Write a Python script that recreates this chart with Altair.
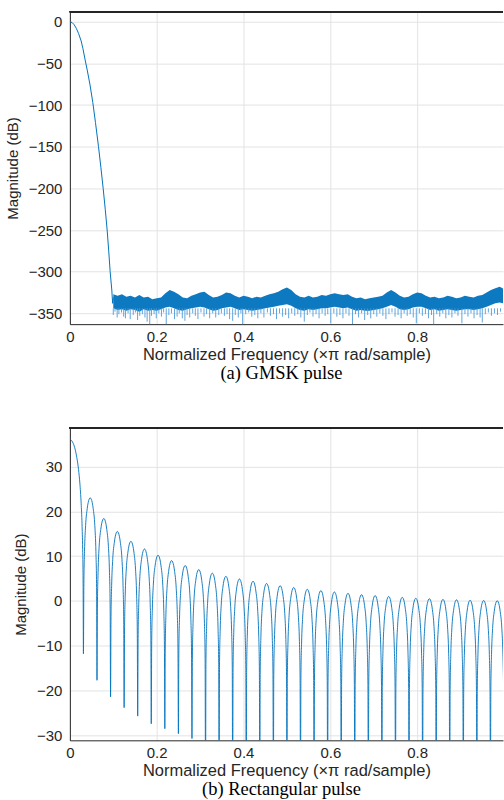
import altair as alt
import pandas as pd

# ---------------- (a) GMSK pulse ----------------
gmsk_lobe_f = [0, 0.005, 0.01, 0.015, 0.02, 0.026, 0.03, 0.0353, 0.04, 0.0465, 0.0529,
               0.059, 0.066, 0.0715, 0.0767, 0.0815, 0.0859, 0.0895, 0.0928, 0.0966, 0.0985, 0.1]
gmsk_lobe_db = [0, -0.9, -3.6, -8, -14, -23, -32, -46, -58, -76, -97,
                -121, -150, -175, -200, -225, -250, -275, -300, -322, -338, -331]

floor_start = 0.10
floor_step = 0.01
floor_upper = [-327, -329, -327, -330, -329, -331, -328, -331, -330, -333,
               -332, -331, -326, -322, -324, -327, -331, -332, -329, -327,
               -325, -324, -328, -331, -330, -328, -325, -326, -329, -331,
               -329, -330, -332, -330, -331, -329, -327, -326, -324, -321,
               -319, -322, -327, -330, -331, -329, -331, -330, -328, -329,
               -327, -326, -327, -328, -327, -330, -332, -331, -333, -332,
               -331, -330, -329, -325, -322, -325, -329, -331, -330, -327,
               -325, -326, -329, -331, -330, -332, -331, -329, -330, -332,
               -331, -329, -330, -331, -329, -328, -325, -322, -320, -318,
               -321]
floor_lower = [-344, -346, -345, -347, -345, -346, -348, -345, -347, -346,
               -347, -345, -343, -342, -344, -346, -347, -345, -344, -343,
               -342, -343, -345, -347, -346, -344, -343, -342, -344, -346,
               -345, -346, -347, -346, -345, -344, -343, -342, -341, -340,
               -339, -341, -344, -346, -347, -345, -346, -345, -344, -344,
               -343, -342, -343, -344, -343, -345, -347, -346, -347, -347,
               -346, -345, -344, -342, -340, -342, -345, -346, -345, -343,
               -342, -342, -344, -346, -345, -347, -346, -345, -346, -347,
               -346, -345, -345, -346, -345, -344, -342, -340, -338, -337,
               -338]

spike_f = [0.100, 0.104, 0.109, 0.113, 0.119, 0.124, 0.128, 0.134, 0.139, 0.146, 0.151, 0.156,
           0.161, 0.167, 0.173, 0.178, 0.184, 0.188, 0.194, 0.199, 0.205, 0.211, 0.216, 0.222,
           0.228, 0.234, 0.241, 0.247, 0.252, 0.259, 0.265, 0.270, 0.276, 0.283, 0.289, 0.295,
           0.302, 0.309, 0.315, 0.322, 0.329, 0.336, 0.343, 0.349, 0.356, 0.362, 0.368, 0.375,
           0.381, 0.388, 0.394, 0.398, 0.405, 0.412, 0.419, 0.426, 0.433, 0.440, 0.447, 0.455,
           0.462, 0.469, 0.476, 0.483, 0.490, 0.497, 0.504, 0.511, 0.518, 0.525, 0.532, 0.540,
           0.547, 0.553, 0.560, 0.567, 0.574, 0.581, 0.588, 0.594, 0.601, 0.608, 0.615, 0.622,
           0.629, 0.636, 0.643, 0.651, 0.658, 0.665, 0.672, 0.679, 0.686, 0.693, 0.700, 0.707,
           0.714, 0.721, 0.728, 0.735, 0.742, 0.749, 0.756, 0.763, 0.770, 0.777, 0.784, 0.791,
           0.798, 0.805, 0.812, 0.819, 0.826, 0.833, 0.838, 0.845, 0.852, 0.859, 0.866, 0.873,
           0.880, 0.887, 0.894, 0.903, 0.910, 0.917, 0.924, 0.931, 0.938, 0.945, 0.950, 0.957,
           0.964, 0.971, 0.978, 0.985, 0.992]
spike_db = [-352, -348, -355, -351, -349, -354, -356, -350, -357, -352, -349, -358,
            -353, -351, -355, -360, -364, -353, -351, -356, -350, -354, -349, -366,
            -352, -350, -357, -354, -350, -356, -359, -352, -355, -350, -353, -357,
            -349, -354, -351, -356, -350, -355, -352, -350, -353, -351, -357, -359,
            -352, -355, -350, -365, -351, -349, -354, -352, -356, -350, -355, -349,
            -353, -351, -357, -350, -354, -352, -356, -350, -353, -351, -355, -360,
            -352, -349, -354, -351, -356, -350, -353, -351, -362, -350, -354, -352,
            -356, -350, -353, -363, -351, -355, -350, -358, -352, -356, -351, -354,
            -350, -353, -357, -351, -349, -354, -352, -356, -350, -353, -351, -355,
            -362, -350, -353, -351, -356, -352, -364, -351, -354, -350, -356, -352,
            -355, -350, -353, -362, -351, -354, -350, -356, -352, -355, -361, -351,
            -349, -353, -350, -352, -348]

# ---------------- (b) Rectangular pulse ----------------
rect_main_f = [0, 0.004, 0.008, 0.012, 0.016, 0.020, 0.023, 0.026, 0.028, 0.0295, 0.0305]
rect_main_db = [36.1, 35.8, 35.1, 33.9, 32.0, 29.3, 26.3, 21.8, 17.2, 11.5, 4.0]
null_spacing = 0.03125
null_db = [-11.8, -17.7, -21.4, -23.8, -25.7, -27.4, -28.5, -29.6, -30.7] + [-45] * 23
lobe_peak_db = [23.0, 18.4, 15.5, 13.3, 11.6, 10.2, 9.0, 7.9, 7.0, 6.2,
                5.5, 4.9, 4.4, 3.9, 3.4, 3.0, 2.6, 2.3, 2.0, 1.7,
                1.4, 1.2, 1.0, 0.8, 0.6, 0.5, 0.35, 0.25, 0.15, 0.1, 0.05]
lobe_u = [0.03, 0.08, 0.16, 0.28, 0.42, 0.5, 0.58, 0.72, 0.84, 0.92, 0.97]
lobe_rel_db = [-20, -12, -6.2, -2.4, -0.3, 0, -0.3, -2.4, -6.2, -12, -20]

# ---------------- tables ----------------
lobe_df = pd.DataFrame({"f": gmsk_lobe_f, "db": gmsk_lobe_db})
floor_df = pd.DataFrame({
    "f": [floor_start + i * floor_step for i in range(len(floor_upper))],
    "hi": floor_upper, "lo": floor_lower})
spike_df = pd.DataFrame({"f": spike_f, "db": spike_db})

rows = [{"f": f, "db": d} for f, d in zip(rect_main_f, rect_main_db)]
for k in range(1, len(null_db) + 1):
    rows.append({"f": k * null_spacing, "db": null_db[k - 1]})
    if k <= len(lobe_peak_db):
        for u, r in zip(lobe_u, lobe_rel_db):
            rows.append({"f": (k + u) * null_spacing, "db": lobe_peak_db[k - 1] + r})
rect_df = pd.DataFrame(rows)

# ---------------- style ----------------
BLUE = "#0072BD"
SANS = "Liberation Sans"
W = 434
H = 313
XMAX = 0.9977

def xaxis():
    return alt.Axis(title="Normalized Frequency (\u00d7\u03c0 rad/sample)",
                    values=[0, 0.2, 0.4, 0.6, 0.8], format="~g",
                    labelFont=SANS, labelFontSize=15, labelColor="#262626",
                    titleFont=SANS, titleFontSize=16.5, titleFontWeight="normal",
                    titleColor="#262626", titlePadding=2, labelPadding=5,
                    ticks=False, tickSize=0, domainColor="#262626",
                    gridColor="#e3e3e3", labelFlush=False)

def yaxis(vals):
    return alt.Axis(title="Magnitude (dB)", values=vals,
                    labelFont=SANS, labelFontSize=15, labelColor="#262626",
                    titleFont=SANS, titleFontSize=15, titleFontWeight="normal",
                    titleColor="#262626", titlePadding=8, labelPadding=8,
                    ticks=False, tickSize=0, domainColor="#262626",
                    gridColor="#e3e3e3")

xs = alt.Scale(domain=[0, XMAX], nice=False, zero=False)

CAPTION = dict(orient="bottom", anchor="middle", frame="group", font="Liberation Serif",
               fontSize=18.5, fontWeight="normal", color="black", offset=1, dx=-5)

# ---- top panel ----
ys_top = alt.Scale(domain=[-363, 12], nice=False, zero=False)
yv_top = [-350, -300, -250, -200, -150, -100, -50, 0]

band = alt.Chart(floor_df).mark_area(color=BLUE, clip=True, opacity=0.95).encode(
    x=alt.X("f:Q", scale=xs, axis=xaxis()),
    y=alt.Y("hi:Q", scale=ys_top, axis=yaxis(yv_top)),
    y2="lo:Q")
spikes = alt.Chart(spike_df).mark_rule(color="#4f9ad8", strokeWidth=0.9, clip=True).encode(
    x=alt.X("f:Q", scale=xs, axis=xaxis()),
    y=alt.Y("db:Q", scale=ys_top, axis=yaxis(yv_top)),
    y2=alt.datum(-344))
lobe = alt.Chart(lobe_df).mark_line(color=BLUE, strokeWidth=1, clip=True).encode(
    x=alt.X("f:Q", scale=xs, axis=xaxis()),
    y=alt.Y("db:Q", scale=ys_top, axis=yaxis(yv_top)))
top_border = alt.Chart(lobe_df).mark_rule(color="#262626", strokeWidth=1).encode(
    x=alt.value(0), x2=alt.value(W), y=alt.value(0))

top = alt.layer(band, spikes, lobe, top_border).properties(
    width=W, height=H,
    title=alt.TitleParams(text="(a)  GMSK pulse", **CAPTION))

# ---- bottom panel ----
ys_bot = alt.Scale(domain=[-31.1, 38.6], nice=False, zero=False)
yv_bot = [-30, -20, -10, 0, 10, 20, 30]

rect_line = alt.Chart(rect_df).mark_line(color=BLUE, strokeWidth=0.9, clip=True,
                                         interpolate="monotone").encode(
    x=alt.X("f:Q", scale=xs, axis=xaxis()),
    y=alt.Y("db:Q", scale=ys_bot, axis=yaxis(yv_bot)))
bot_border = alt.Chart(rect_df).mark_rule(color="#262626", strokeWidth=1).encode(
    x=alt.value(0), x2=alt.value(W), y=alt.value(0))

bottom = alt.layer(rect_line, bot_border).properties(
    width=W, height=H,
    title=alt.TitleParams(text="(b)  Rectangular pulse", **CAPTION))

chart = alt.vconcat(top, bottom, spacing=45).properties(
    padding={"left": 5, "top": 10, "right": 0, "bottom": 0},
    background="white"
).configure_view(stroke=None)

chart.save("out.html", embed_options={"renderer": "svg", "actions": False})
